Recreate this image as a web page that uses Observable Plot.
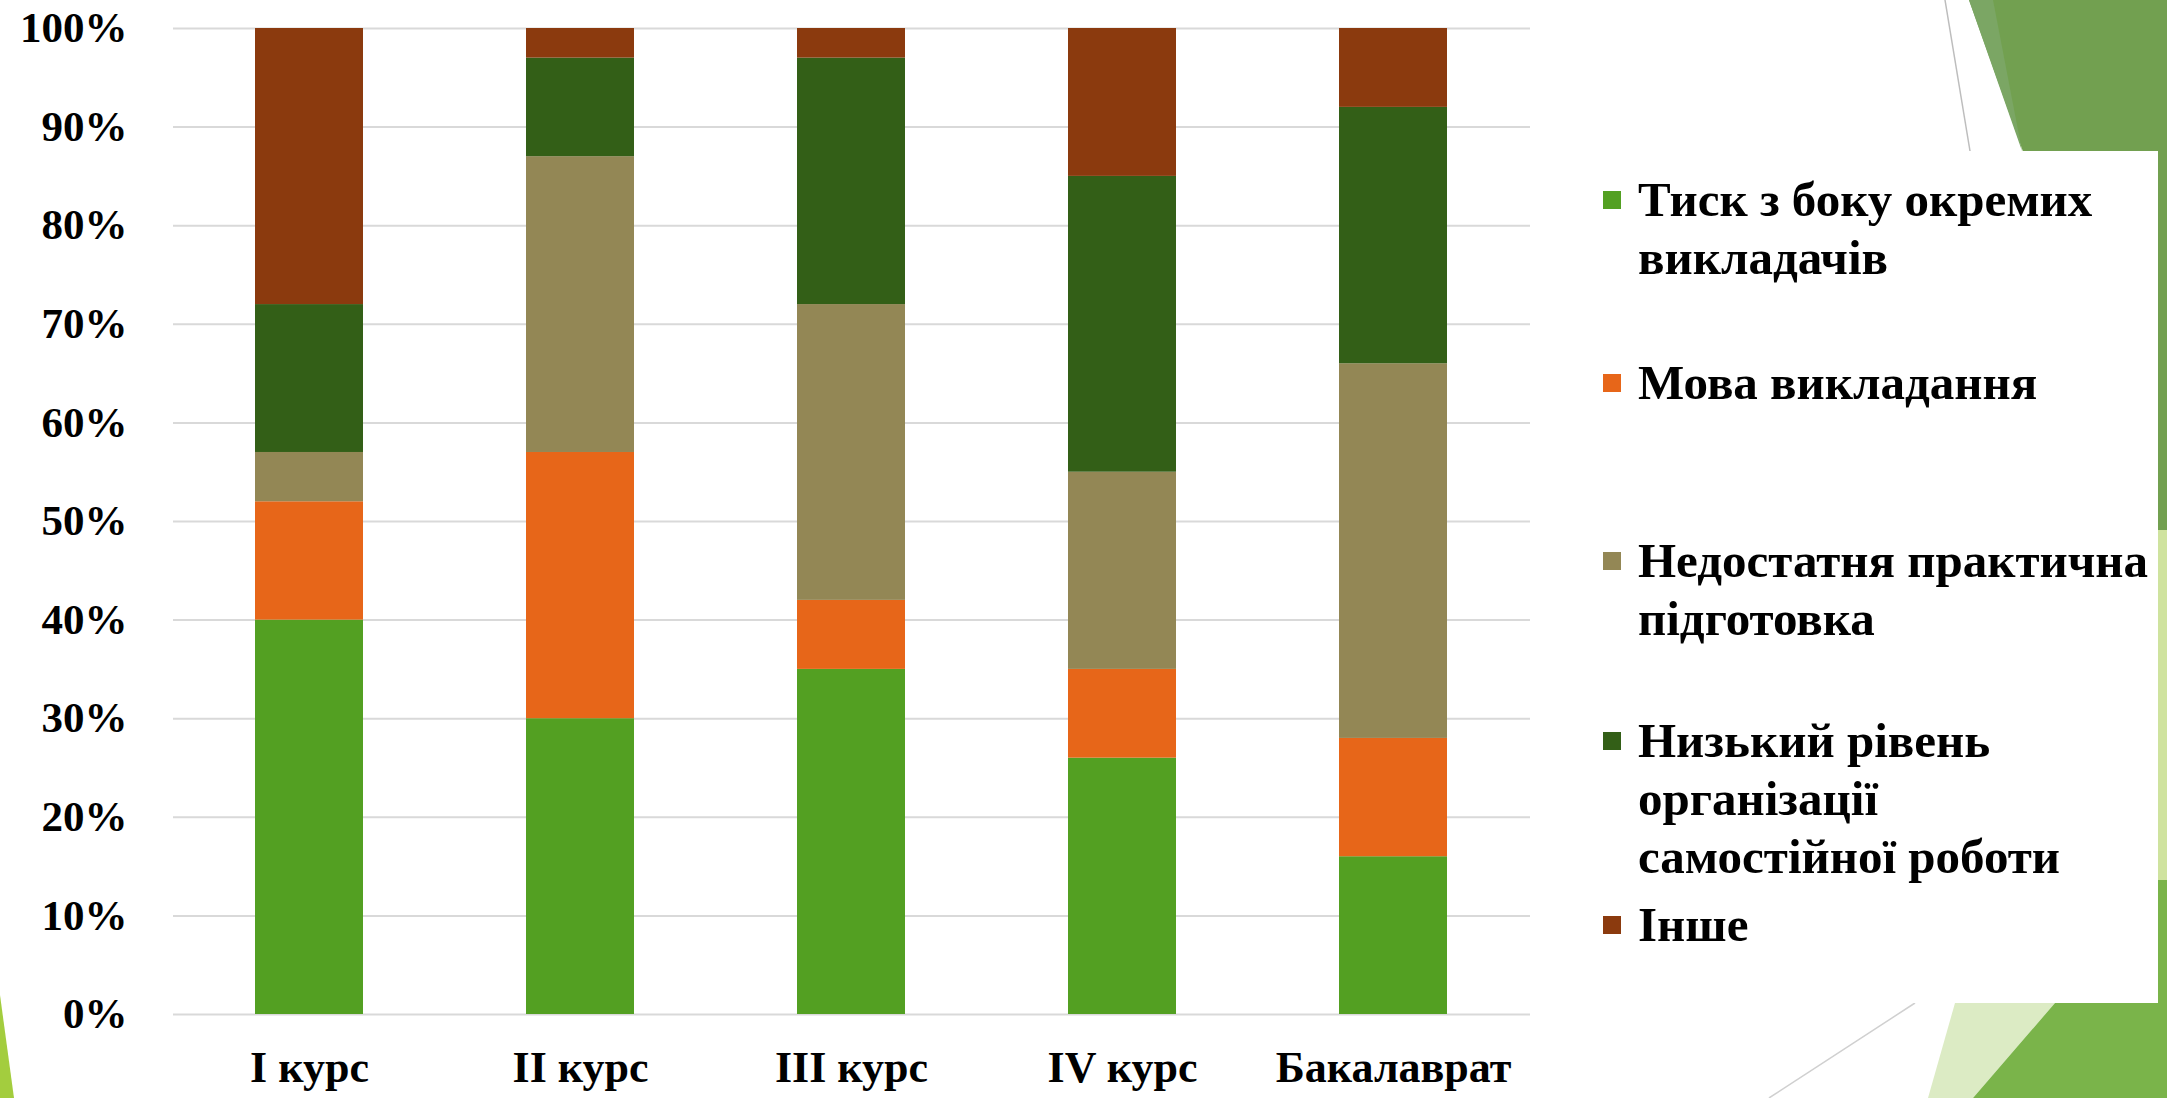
<!DOCTYPE html>
<html>
<head>
<meta charset="utf-8">
<script src="https://cdn.jsdelivr.net/npm/d3@7"></script>
<script src="https://cdn.jsdelivr.net/npm/@observablehq/plot@0.6"></script>
<style>
html,body{margin:0;padding:0;background:#fff;}
#stage{position:relative;width:2167px;height:1098px;overflow:hidden;background:#fff;}
#bg{position:absolute;left:0;top:0;}
#chart{position:absolute;left:0;top:0;}
#legend{position:absolute;left:0;top:0;width:2167px;height:1098px;font-family:"Liberation Serif",serif;font-weight:bold;color:#000;}
.item{position:absolute;left:1603px;font-size:49px;line-height:58px;white-space:pre;}
.sw{position:absolute;left:0;top:20px;width:18px;height:18px;}
.lbl{position:absolute;left:35px;top:0;}
</style>
</head>
<body>
<div id="stage">
<svg id="bg" width="2167" height="1098" viewBox="0 0 2167 1098">
  <polygon points="1969,0 2167,0 2167,556" fill="#72a050"/>
  <polygon points="1969,0 1993,0 2022,151" fill="#7ba664"/>
  <line x1="1945" y1="0" x2="1970" y2="151" stroke="#bdbdbd" stroke-width="1.5"/>
  <rect x="2150" y="530" width="17" height="350" fill="#cfe39f"/>
  <polygon points="1928,1098 1955,1003 2055,1003 1973,1098" fill="#dcebc4"/>
  <polygon points="1973,1098 2055,1003 2158,1003 2158,880 2167,880 2167,1098" fill="#7ab44a"/>
  <line x1="1769" y1="1098" x2="1915" y2="1003" stroke="#d0d0d0" stroke-width="1.5"/>
  <polygon points="0,995 14,1098 0,1098" fill="#a3cd3e"/>
  <rect x="1569" y="151" width="589" height="852" fill="#ffffff"/>
</svg>
<div id="chart"></div>
<div id="legend"></div>
</div>
<script>
const categories = ["I курс", "II курс", "III курс", "IV курс", "Бакалаврат"];
const seriesNames = [
  "Тиск з боку окремих викладачів",
  "Мова викладання",
  "Недостатня практична підготовка",
  "Низький рівень організації самостійної роботи",
  "Інше"
];
const legendLabels = [
  "Тиск з боку окремих\nвикладачів",
  "Мова викладання",
  "Недостатня практична\nпідготовка",
  "Низький рівень\nорганізації\nсамостійної роботи",
  "Інше"
];
const tyskValues        = [40, 30, 35, 26, 16];
const movaValues        = [12, 27, 7, 9, 12];
const nedostatniaValues = [5, 30, 30, 20, 38];
const nyzkyiValues      = [15, 10, 25, 30, 26];
const insheValues       = [28, 3, 3, 15, 8];
const seriesColors = ["#53a022", "#e76619", "#938755", "#335f17", "#8b3a0e"];
const yTicks = [0, 10, 20, 30, 40, 50, 60, 70, 80, 90, 100];

const allValues = [tyskValues, movaValues, nedostatniaValues, nyzkyiValues, insheValues];
const rows = [];
seriesNames.forEach((s, si) => {
  categories.forEach((c, ci) => {
    rows.push({category: c, series: s, value: allValues[si][ci]});
  });
});

const font = "'Liberation Serif', serif";
const chart = Plot.plot({
  width: 1560,
  height: 1098,
  marginTop: 28,
  marginBottom: 84,
  marginLeft: 173,
  marginRight: 30,
  style: {background: "transparent", fontFamily: font, fontWeight: "bold", fontSize: "42px", color: "#000", overflow: "visible"},
  x: {domain: categories, paddingInner: 0.6, paddingOuter: 0.3, align: 0.5},
  y: {domain: [0, 100]},
  color: {domain: seriesNames, range: seriesColors},
  marks: [
    Plot.gridY(yTicks, {stroke: "#d9d9d9", strokeOpacity: 1, strokeWidth: 2}),
    Plot.barY(rows, {x: "category", y: "value", fill: "series"}),
    Plot.axisY(yTicks, {tickSize: 0, tickPadding: 46, tickFormat: d => d + "%", label: null, fontSize: 43, fontWeight: "bold", fontFamily: font, fill: "#000"}),
    Plot.axisX({tickSize: 0, tickPadding: 36, label: null, fontSize: 44, fontWeight: "bold", fontFamily: font, fill: "#000"})
  ]
});
document.getElementById("chart").appendChild(chart);

const centers = [200, 383, 561, 741, 925];
const legend = document.getElementById("legend");
seriesNames.forEach((s, i) => {
  const item = document.createElement("div");
  item.className = "item";
  item.style.top = (centers[i] - 29) + "px";
  const sw = document.createElement("div");
  sw.className = "sw";
  sw.style.background = seriesColors[i];
  const lbl = document.createElement("div");
  lbl.className = "lbl";
  lbl.textContent = legendLabels[i];
  item.appendChild(sw);
  item.appendChild(lbl);
  legend.appendChild(item);
});
</script>
</body>
</html>
